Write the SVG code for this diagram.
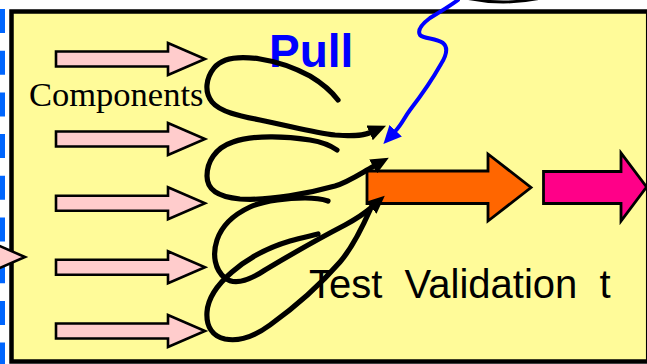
<svg xmlns="http://www.w3.org/2000/svg" width="647" height="364" viewBox="0 0 647 364">
  <style>
    .box { fill: #FFFB99; stroke: #000; stroke-width: 4.5; }
    .comp { fill: #FFCCCC; stroke: #000; stroke-width: 2.6; stroke-linejoin: miter; }
    .big { stroke: #000; stroke-width: 2.8; }
    .ink { fill: none; stroke: #000; stroke-width: 5.2; stroke-linecap: round; stroke-linejoin: round; }
    .pullink { fill: none; stroke: #0000FF; stroke-width: 4; stroke-linecap: round; stroke-linejoin: round; }
    .serif { font-family: "Liberation Serif", "Times New Roman", serif; }
    .sans { font-family: "Liberation Sans", Arial, sans-serif; }
  </style>
  <defs>
    <!-- block arrow with its tip at the origin -->
    <path id="compArrow" d="M-149,-7.5 H-37 V-16 L0,0 L-37,16 V7.5 H-149 Z"/>
    <marker id="inkHead" markerUnits="userSpaceOnUse" viewBox="0 0 18 16" markerWidth="18" markerHeight="16" refX="1" refY="8" orient="auto">
      <path d="M0,0 L18,8 L0,16 Z" fill="#000"/>
    </marker>
    <marker id="pullHead" markerUnits="userSpaceOnUse" viewBox="0 0 18 17" markerWidth="18" markerHeight="17" refX="1" refY="8.5" orient="auto">
      <path d="M0,0 L18,8.5 L0,17 Z" fill="#0000FF"/>
    </marker>
  </defs>

  <!-- edge of the neighbouring frame -->
  <line x1="2.5" y1="9" x2="2.5" y2="364" stroke="#0066FF" stroke-width="5" stroke-dasharray="24 17.7"/>
  <path d="M466,-2 Q503,6 541,-2" fill="none" stroke="#000" stroke-width="3"/>

  <!-- main frame -->
  <g id="frame">
    <rect class="box" x="11.5" y="11.5" width="636.7" height="350"/>
  </g>

  <g id="components">
    <use href="#compArrow" class="comp" transform="translate(205,59)"/>
    <use href="#compArrow" class="comp" transform="translate(205,139)"/>
    <use href="#compArrow" class="comp" transform="translate(205,203.3)"/>
    <use href="#compArrow" class="comp" transform="translate(205,267.3)"/>
    <use href="#compArrow" class="comp" transform="translate(205,331)"/>
    <text class="serif" x="29" y="105.5" font-size="34.5" fill="#000">Components</text>
  </g>

  <g id="pull-label">
    <text class="sans" x="269" y="67" font-size="46" font-weight="bold" fill="#0000FF">Pull</text>
  </g>

  <g id="test-validation">
    <path class="big" fill="#FF6600" d="M367,171 H488 V154 L531,187.5 L488,221 V203.5 H367 Z"/>
    <text class="sans" x="309" y="298" font-size="40" fill="#000" style="white-space:pre">Test  Validation  t</text>
  </g>

  <g id="next-stage">
    <path class="big" fill="#FF0088" d="M543.5,171.5 H621 V153 L646.5,187 L621,221 V203.5 H543.5 Z"/>
  </g>

  <!-- hand-drawn pull loops -->
  <g id="connectors">
    <path class="ink" marker-end="url(#inkHead)" d="M338,100 C332,92 325,85 310,76 C295,68 280,62 260,59 C240,56 222,58 214,68 C206,78 204,92 212,102 C220,112 240,116 260,120 C290,126 315,133 335,135 C348,136 361,136.7 370.5,132.5"/>
    <path class="ink" marker-end="url(#inkHead)" d="M337,150 C330,145 322,142 310,140 C290,137 255,134 233,142 C215,148 207,162 207,176 C207,190 218,197 240,199 C270,201 310,193 335,186 C348,182 358,175 374,166"/>
    <path class="ink" d="M318,234 C310,236 300,238 290,241 C270,247 248,258 232,272 C218,284 208,298 207,312 C206,326 212,336 225,339 C240,342 255,336 270,325 C295,307 320,285 340,262 C352,248 362,228 370,210"/>
    <path class="ink" marker-end="url(#inkHead)" d="M328,201 C322,199 315,198 305,198 C290,198 265,200 250,207 C235,214 222,225 217,240 C212,255 215,270 225,278 C235,286 250,280 265,270 C290,255 320,238 345,225 C356,219 364,214 372,207"/>
    <path class="pullink" marker-end="url(#pullHead)" d="M458,0 C450,6 440,12 430,18 C422,24 417,30 420,35 C424,39 436,38 443,43 C449,48 446,56 441,64 C432,80 420,97 410,110 C404,118 402,124 395,131.5"/>
  </g>

  <!-- arrow entering from the neighbouring frame -->
  <g id="incoming">
    <path class="comp" stroke-width="3" d="M-60,249 H-12 V241 L25,257 L-12,273 V265 H-60 Z"/>
  </g>
</svg>
